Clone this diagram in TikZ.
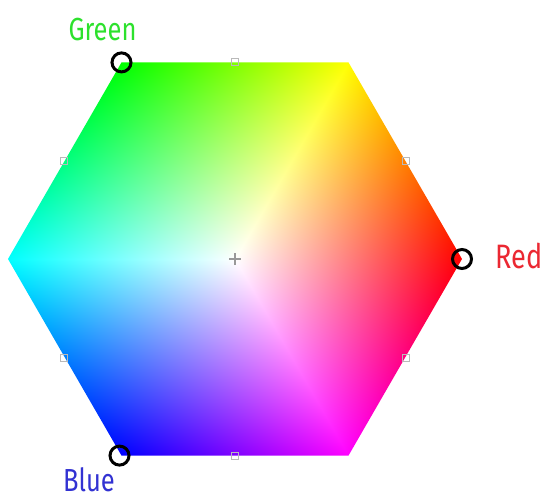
\documentclass[tikz,border=0pt]{standalone}
\usepackage{fontspec}
\newfontfamily\lblfont[FakeStretch=0.8]{Fira Sans}
\usetikzlibrary{positioning}

\definecolor{greenlbl}{RGB}{45,225,45}
\definecolor{redlbl}{RGB}{235,40,50}
\definecolor{bluelbl}{RGB}{50,50,210}

% colour of the cube seen from the white corner, radius 227bp
\pgfdeclarefunctionalshading{rgbhex}{\pgfpoint{-227bp}{-197bp}}{\pgfpoint{227bp}{197bp}}{}{
  0.0029369 mul exch 0.0029369 mul exch
  0.8660254 mul exch
  dup -0.5 mul
  dup 3 index add
  exch 3 index sub
  4 -1 roll pop
  3 copy
  2 copy lt {exch} if pop
  2 copy lt {exch} if pop
  1 exch sub
  4 1 roll
  3 index add 3 1 roll
  3 index add 3 1 roll
  3 index add
  4 -1 roll pop
  3 1 roll
}

\begin{document}
\begin{tikzpicture}[x=1bp,y=1bp,
    ring/.style={circle,draw=black,line width=3bp,minimum size=19bp,inner sep=0pt},
    handle/.style={rectangle,draw=gray!55,line width=0.8bp,minimum size=7bp,inner sep=0pt},
    lbl/.style={font=\lblfont\fontsize{32}{38}\selectfont,inner sep=0pt}]
   \useasboundingbox (-235,-243) rectangle (309,259);
   \coordinate (c) at (0,0);
   \foreach \a/\n in {0/r,60/y,120/g,180/cy,240/b,300/m}
      \coordinate (\n) at (\a:227);
   \begin{scope}
      \clip (r) -- (y) -- (g) -- (cy) -- (b) -- (m) -- cycle;
      \node[inner sep=0pt,outer sep=0pt] (hex) at (c) {\pgfuseshading{rgbhex}};
   \end{scope}
   \foreach \a in {30,90,...,330}
      \node[handle] at (\a:197) {};
   \draw[gray!80,line width=1.2bp] (-6,0) -- (6,0) (0,-6) -- (0,6);
   \node[ring] (greenpt) at (g) {};
   \node[ring] (redpt)   at (r) {};
   \node[ring] (bluept)  at ([xshift=-2]b) {};
   \node[lbl,text=greenlbl] (greentxt) at (-132.5,229.5) {Green};
   \node[lbl,text=redlbl,font=\lblfont\fontsize{34}{40}\selectfont] (redtxt) at (284,2.5) {Red};
   \node[lbl,text=bluelbl]  (bluetxt)  at (-146,-221) {Blue};
\end{tikzpicture}
\end{document}
